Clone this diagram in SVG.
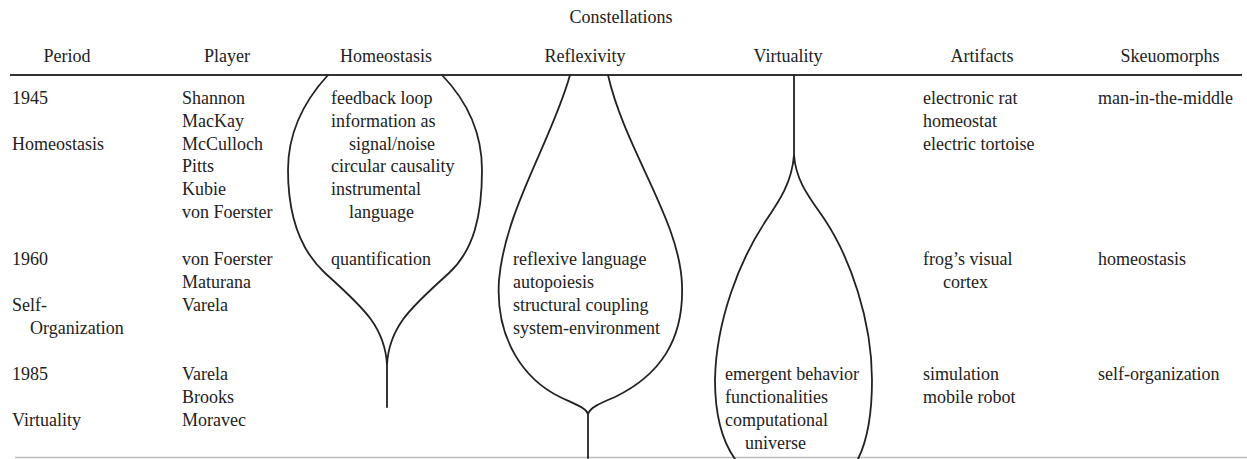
<svg xmlns="http://www.w3.org/2000/svg" width="1247" height="459" viewBox="0 0 1247 459">
<style>
text { font-family: "Liberation Serif", "Times New Roman", serif; font-size: 18px; fill: #222; }
.h { text-anchor: middle; }
.bulb { fill: none; stroke: #222; stroke-width: 1.8; stroke-linejoin: round; stroke-linecap: round; }
.rule { stroke: #333; stroke-width: 2; }
.rule2 { stroke: #bbb; stroke-width: 1.5; }
</style>
<rect width="1247" height="459" fill="#fff"/>
<g id="header">
<text class="h" x="621" y="23">Constellations</text>
<text class="h" x="67" y="62">Period</text>
<text class="h" x="227" y="62">Player</text>
<text class="h" x="386" y="62">Homeostasis</text>
<text class="h" x="585" y="62">Reflexivity</text>
<text class="h" x="788" y="62">Virtuality</text>
<text class="h" x="982" y="62">Artifacts</text>
<text class="h" x="1170" y="62">Skeuomorphs</text>
</g>
<g id="connectors">
<line class="rule" x1="10" y1="75" x2="1242" y2="75"/>
<line class="rule2" x1="15" y1="457.5" x2="1247" y2="457.5"/>
</g>
<g id="bulb-homeostasis">
<path class="bulb" d="M328,75 C305,100 288,130 288,170 C288,215 300,250 325,273 C360,305 385,325 387,365 L387,407 M387,365 C389,325 414,305 449,273 C474,250 482,215 482,170 C482,130 466,100 442,75"/>
</g>
<g id="bulb-reflexivity">
<path class="bulb" d="M570,75 C552,140 505,210 499,280 C495,340 525,380 560,397 C577,405 586,408 588,414 L588,458 M588,414 C590,408 598,404 615,397 C660,375 684,340 682,285 C680,220 625,150 608,75"/>
</g>
<g id="bulb-virtuality">
<path class="bulb" d="M794,75 L794,155 C792,182 780,200 765,222 C740,260 716,320 715,380 C715,420 725,445 735,459 M794,155 C796,182 810,198 825,220 C850,258 872,320 872,380 C872,420 865,445 858,459"/>
</g>
<g id="period">
<text x="12" y="104">1945</text>
<text x="12" y="149.5">Homeostasis</text>
<text x="12" y="264.5">1960</text>
<text x="12" y="310.5">Self-</text>
<text x="30" y="333.5">Organization</text>
<text x="12" y="379.5">1985</text>
<text x="12" y="425.5">Virtuality</text>
</g>
<g id="player">
<text x="182" y="104">Shannon</text>
<text x="182" y="126.5">MacKay</text>
<text x="182" y="149.5">McCulloch</text>
<text x="182" y="172">Pitts</text>
<text x="182" y="195">Kubie</text>
<text x="182" y="218">von Foerster</text>
<text x="182" y="264.5">von Foerster</text>
<text x="182" y="287.5">Maturana</text>
<text x="182" y="310.5">Varela</text>
<text x="182" y="379.5">Varela</text>
<text x="182" y="402.5">Brooks</text>
<text x="182" y="425.5">Moravec</text>
</g>
<g id="homeostasis-terms">
<text x="331" y="104">feedback loop</text>
<text x="331" y="126.5">information as</text>
<text x="349" y="149.5">signal/noise</text>
<text x="331" y="172">circular causality</text>
<text x="331" y="195">instrumental</text>
<text x="349" y="218">language</text>
<text x="331" y="264.5">quantification</text>
</g>
<g id="reflexivity-terms">
<text x="513" y="264.5">reflexive language</text>
<text x="513" y="287.5">autopoiesis</text>
<text x="513" y="310.5">structural coupling</text>
<text x="513" y="333.5">system-environment</text>
</g>
<g id="virtuality-terms">
<text x="725" y="379.5">emergent behavior</text>
<text x="725" y="402.5">functionalities</text>
<text x="725" y="425.5">computational</text>
<text x="745" y="448.5">universe</text>
</g>
<g id="artifacts">
<text x="923" y="104">electronic rat</text>
<text x="923" y="126.5">homeostat</text>
<text x="923" y="149.5">electric tortoise</text>
<text x="923" y="264.5">frog’s visual</text>
<text x="943" y="287.5">cortex</text>
<text x="923" y="379.5">simulation</text>
<text x="923" y="402.5">mobile robot</text>
</g>
<g id="skeuomorphs">
<text x="1098" y="104">man-in-the-middle</text>
<text x="1098" y="264.5">homeostasis</text>
<text x="1098" y="379.5">self-organization</text>
</g>
</svg>
